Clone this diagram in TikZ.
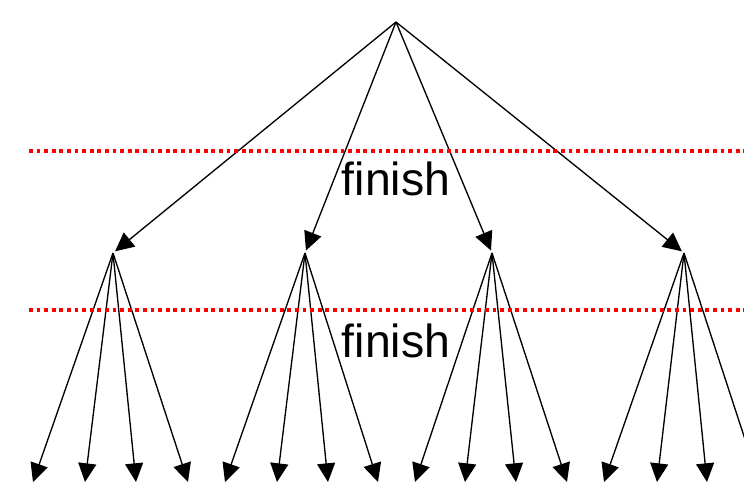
\documentclass[tikz,border=0pt]{standalone}
\usepackage{fontspec}
\setmainfont{Liberation Sans}
\usetikzlibrary{arrows.meta}

\begin{document}
\begin{tikzpicture}[x=0.75pt,y=-0.75pt,line join=round,
    edge/.style={line width=1pt,-{Triangle[width=13.5pt,length=14pt]}},
    cut/.style={red,line width=2.8pt,dash pattern=on 2.8pt off 2.9pt},
    lbl/.style={font=\fontsize{34.8}{40}\selectfont,inner sep=0pt,anchor=base}]

  \clip (0,0) rectangle (744,486);

  % ---- root and first level ------------------------------------------------
  \coordinate (root) at (396,22);
  \foreach \i/\x in {1/113,2/305,3/492,4/684}{
    \coordinate (n\i) at (\x,253);
    \draw[edge,shorten >=2pt] (root) -- (n\i);
  }

  % ---- leaves, four under each node ----------------------------------------
  \foreach \i/\a/\b/\c/\d in {1/33/85/136/188, 2/225/277/328/378,
                              3/415/465/516/567, 4/604/657/707/759}{
    \foreach \x [count=\j] in {\a,\b,\c,\d}{
      \coordinate (l\i\j) at (\x,482);
      \draw[edge] (n\i) -- (l\i\j);
    }
  }

  % ---- the two cut lines ---------------------------------------------------
  \draw[cut] (29,151) -- (744,151);
  \draw[cut] (29,310) -- (744,310);

  \node[lbl] (fin1) at (396,195) {finish};
  \node[lbl] (fin2) at (396,357) {finish};

\end{tikzpicture}
\end{document}
